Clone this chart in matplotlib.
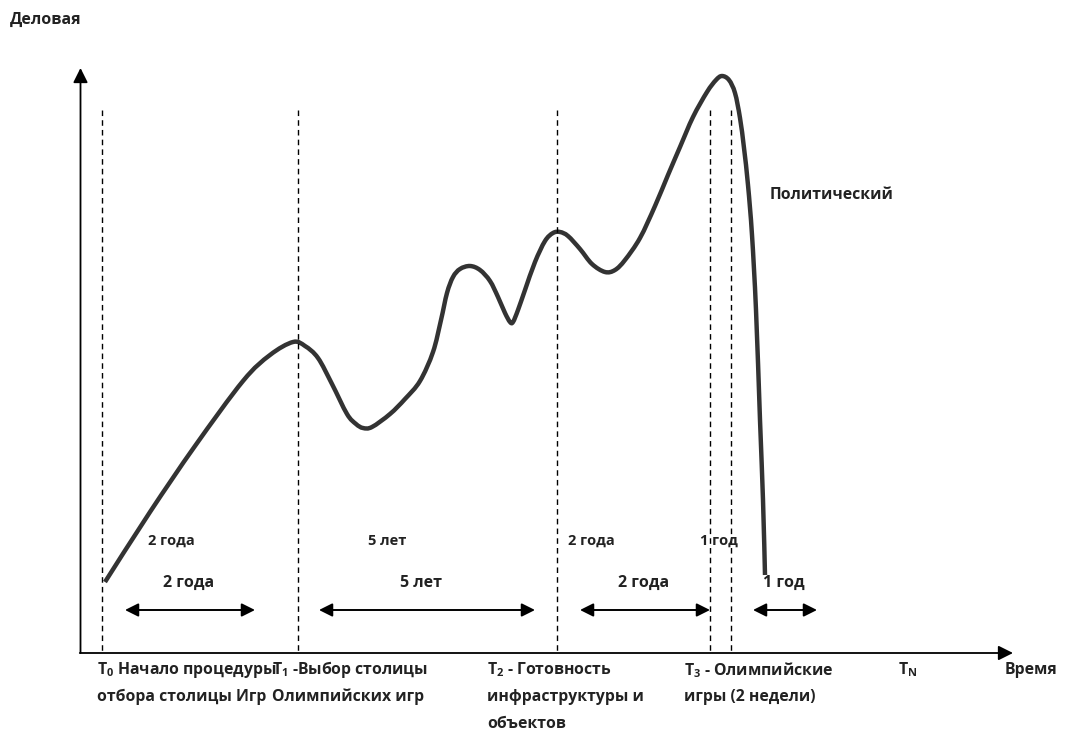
import matplotlib
matplotlib.use("Agg")
import matplotlib.pyplot as plt
import numpy as np
from matplotlib.path import Path
from matplotlib.patches import PathPatch

# ---- data (in chart units: time -> x, level -> y (down)) ----
curve_t = [105, 150, 195, 243, 270, 293, 305, 318, 332, 347, 356, 363,
           372, 390, 405, 420, 433, 441, 447, 453, 460, 470, 480, 490, 498, 505, 510, 513, 518,
           525, 535, 545, 553, 560, 568, 580, 592, 605, 615, 625, 640, 655, 668, 680, 693, 707,
           716, 722, 729, 735, 740, 744, 748, 752, 756, 760, 763, 765]
curve_v = [582, 512, 446, 381, 355, 342, 346, 358, 384, 414, 424, 428,
           427, 414, 399, 381, 352, 320, 293, 277, 269, 266, 270, 281, 297, 313, 322, 322, 310,
           290, 262, 241, 233, 232, 236, 249, 264, 272, 270, 260, 238, 206, 175, 147, 117, 92,
           80, 76, 80, 93, 118, 148, 185, 235, 310, 420, 500, 575]
phase_lines = [102, 298, 557, 710, 731]
span_starts = [125, 319, 580, 753]
span_ends = [255, 535, 710, 817]
span_labels = ["2 года", "5 лет", "2 года", "1 год"]
span_label_x = [189, 421, 644, 784]
upper_labels = ["2 года", "5 лет", "2 года", "1 год"]
upper_x = [148, 368, 568, 700]
milestone_x = [97, 272, 487, 684, 898]
milestone_lines = [
    ["T$_{0}$ Начало процедуры", "отбора столицы Игр"],
    ["T$_{1}$ -Выбор столицы", "Олимпийских игр"],
    ["T$_{2}$ - Готовность", "инфраструктуры и", "объектов"],
    ["T$_{3}$ - Олимпийские", "игры (2 недели)"],
    ["T$_{\\mathrm{N}}$"],
]
y_axis_label = "Деловая"
x_axis_label = "Время"
curve_label = "Политический"

plt.rcParams['font.family'] = ['Open Sans', 'DejaVu Sans']
plt.rcParams['mathtext.fontset'] = 'custom'
plt.rcParams['mathtext.rm'] = 'Open Sans:bold'
plt.rcParams['mathtext.it'] = 'Open Sans:bold'
plt.rcParams['mathtext.bf'] = 'Open Sans:bold'

fig = plt.figure(figsize=(10.65, 7.33), dpi=100)
ax = fig.add_axes([0, 0, 1, 1])
ax.set_xlim(0, 1065)
ax.set_ylim(733, 0)
ax.axis('off')

txt_color = '#222222'
fw = 'bold'

# axes arrows
ax.annotate('', xy=(80.5, 68), xytext=(80.5, 653),
            arrowprops=dict(arrowstyle='-|>', color='black', lw=1.3,
                            mutation_scale=22, shrinkA=0, shrinkB=0))
ax.annotate('', xy=(1013, 653), xytext=(79.8, 653),
            arrowprops=dict(arrowstyle='-|>', color='black', lw=1.3,
                            mutation_scale=22, shrinkA=0, shrinkB=0))

# dashed phase lines
for x in phase_lines:
    ax.plot([x, x], [110, 652], color='black', lw=1.0, ls=(0, (4, 3)))

# curve drawn as a smooth Bezier path through the read points
P = np.column_stack([curve_t, curve_v]).astype(float)
verts = [P[0]]
codes = [Path.MOVETO]
for i in range(len(P) - 1):
    p0 = P[i - 1] if i > 0 else P[i]
    p1 = P[i]
    p2 = P[i + 1]
    p3 = P[i + 2] if i + 2 < len(P) else P[i + 1]
    c1 = p1 + (p2 - p0) / 6.0
    c2 = p2 - (p3 - p1) / 6.0
    verts += [c1, c2, p2]
    codes += [Path.CURVE4] * 3
ax.add_patch(PathPatch(Path(verts, codes), facecolor='none', edgecolor='#333333',
                       lw=3.2, capstyle='butt', joinstyle='round'))

# duration arrows
for s, e, lab, lx in zip(span_starts, span_ends, span_labels, span_label_x):
    ax.annotate('', xy=(e, 610), xytext=(s, 610),
                arrowprops=dict(arrowstyle='<|-|>', color='black', lw=1.4,
                                mutation_scale=20, shrinkA=0, shrinkB=0))
    ax.text(lx, 583, lab, ha='center', va='center',
            fontsize=11.5, fontweight=fw, color=txt_color)

for x, lab in zip(upper_x, upper_labels):
    ax.text(x, 541, lab, ha='left', va='center', fontsize=10.5, fontweight=fw, color=txt_color)

# milestone labels
for x, lines in zip(milestone_x, milestone_lines):
    for i, line in enumerate(lines):
        ax.text(x, 670 + 27 * i, line, ha='left', va='center', fontsize=11.3,
                fontweight=fw, color=txt_color)

ax.text(1005, 670, x_axis_label, ha='left', va='center', fontsize=11.3,
        fontweight=fw, color=txt_color)
ax.text(10, 20, y_axis_label, ha='left', va='center', fontsize=11.5,
        fontweight=fw, color=txt_color)
ax.text(770, 195, curve_label, ha='left', va='center', fontsize=11.3,
        fontweight=fw, color=txt_color)

fig.savefig('out.png', dpi=100, facecolor='white')
